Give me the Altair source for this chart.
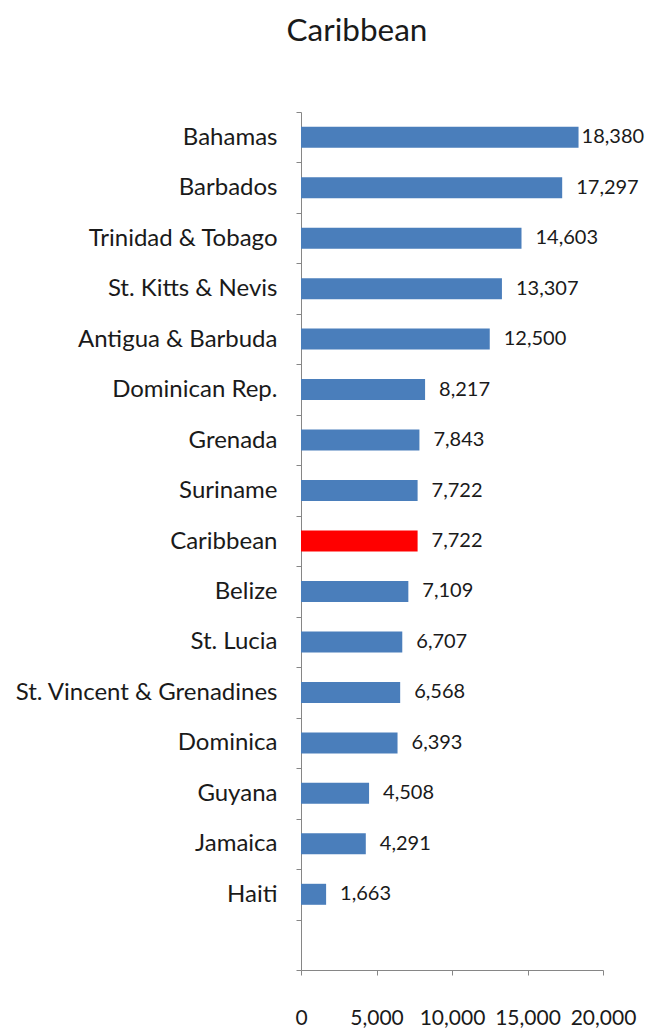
import altair as alt
import pandas as pd

countries = ["Bahamas", "Barbados", "Trinidad & Tobago", "St. Kitts & Nevis",
             "Antigua & Barbuda", "Dominican Rep.", "Grenada", "Suriname",
             "Caribbean", "Belize", "St. Lucia", "St. Vincent & Grenadines",
             "Dominica", "Guyana", "Jamaica", "Haiti"]
values = [18380, 17297, 14603, 13307, 12500, 8217, 7843, 7722,
          7722, 7109, 6707, 6568, 6393, 4508, 4291, 1663]
x_ticks = [0, 5000, 10000, 15000, 20000]

FONT = "Lato"

df = pd.DataFrame({"country": countries, "value": values})
df["is_region"] = df["country"] == "Caribbean"
df["label"] = df["value"].map(lambda v: f"{v:,}")

domain = countries + [" "]

y_enc = alt.Y("country:N", sort=domain,
              scale=alt.Scale(domain=domain, paddingInner=0, paddingOuter=0),
              axis=alt.Axis(title=None, tickBand="extent", grid=False, tickSize=5,
                            labelPadding=19, labelFont=FONT, labelFontSize=24,
                            labelColor="#1a1a1a", domainColor="#868686",
                            tickColor="#868686", labelLimit=400))
x_enc = alt.X("value:Q", scale=alt.Scale(domain=[0, 20000], nice=False),
              axis=alt.Axis(title=None, values=x_ticks, format=",.0f", grid=False,
                            tickSize=5, labelPadding=32, labelFont=FONT,
                            labelFontSize=21, labelColor="#1a1a1a",
                            domainColor="#868686", tickColor="#868686",
                            labelBaseline="top", labelFlush=False))

base = alt.Chart(df)

bars = base.mark_bar(height=21).encode(
    x=x_enc, y=y_enc,
    color=alt.condition(alt.datum.is_region, alt.value("#ff0000"), alt.value("#4a7ebb")),
)

labels_main = base.transform_filter(alt.datum.value < 18000).mark_text(
    align="left", baseline="middle", dx=14, font=FONT, fontSize=20, color="#1a1a1a"
).encode(x=x_enc, y=y_enc, text="label:N")

labels_top = base.transform_filter(alt.datum.value >= 18000).mark_text(
    align="left", baseline="middle", dx=3, font=FONT, fontSize=20, color="#1a1a1a"
).encode(x=x_enc, y=y_enc, text="label:N")

chart = alt.layer(bars, labels_main, labels_top).properties(
    width=302, height=858,
    background="white",
    title=alt.TitleParams("Caribbean", font=FONT, fontSize=31.5, fontWeight="normal",
                          color="#1a1a1a", anchor="middle", dx=-95, dy=25, offset=53,
                          baseline="alphabetic"),
    autosize=alt.AutoSizeParams(type="none"),
    padding={"left": 293, "top": 104, "right": 42, "bottom": 59},
).configure_view(stroke=None)

chart.save("out.html", embed_options={"renderer": "svg", "actions": False})
